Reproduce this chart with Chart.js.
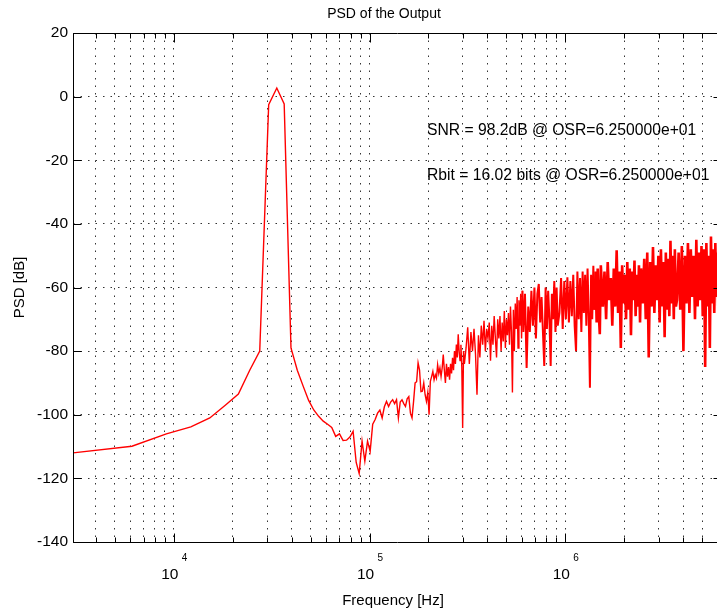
<!DOCTYPE html>
<html>
<head>
<meta charset="utf-8">
<script src="https://cdn.jsdelivr.net/npm/chart.js@4.4.1/dist/chart.umd.min.js"></script>
<style>
  html, body { margin: 0; padding: 0; background: #fff; overflow: hidden; }
  #wrap { width: 717px; height: 613px; overflow: hidden; }
</style>
</head>
<body>
<div id="wrap"><canvas id="psdChart" width="722" height="613"></canvas></div>
<script>
// FFT bin spacing (fs = 12.5 MHz, N = 4096), bins
const binHz = 12.5e6 / 4096
const bins = [
    1,2,3,4,5,6,7,8,9,10, 11,12,13,14,15,16,17,18,19,20,
    21,22,23,24,25,26,27,28,29,30, 31,32,33,34,35,36,37,38,39,40,
    41,42,43,44,45,46,47,48,49,50, 51,52,53,54,55,56,57,58,59,60,
    61,62,63,64,65,66,67,68,69,70, 71,72,73,74,75,76,77,78,79,80,
    81,82,83,84,85,86,87,88,89,90, 91,92,93,94,95,96,97,98,99,100,
    102,104,106,108,110,112,114,116,118,120,122,124,126,128,130,132,134,136,138,140,
    142,144,146,148,150,152,154,156,158,160,162,164,166,168,170,172,174,176,178,180,
    182,184,186,188,190,192,194,196,198,200,
    204,208,212,216,220,224,228,232,236,240,244,248,252,256,260,264,268,272,276,280,
    284,288,292,296,300,
    306,312,318,324,330,336,342,348,354,360,366,372,378,384,390,396,402,408,414,420,
    426,432,438,444,450,456,462,468,474,480,486,492,498,
    510,520,530,540,550,560,570,580,590,600,610,620,630,640,650,660,670,680,690,700,
    710,720,730,740,750,760,770,780,790,800,
    815,830,845,860,875,890,905,920,935,950,965,980,995,1010,1025,1040,1055,1070,1085,1100,
    1115,1130,1145,1160,1175,1190,1205,
    1220,1244,1268,1292,1316,1340,1364,1388,1412,1436,1460,1484,1508,1532,1556,1580,1604,1628,1652,1676,
    1700,1724,1748,1772,1796,1820,1844,1868,1892,1916,1940,1964,1988,2012,2036,2048
]
const psdDb = [
    -112,-109.9,-106,-103.8,-101,-97,-93.5,-86,-80,-2.5,
    2.7,-2.3,-79,-86,-91,-95.5,-98.5,-100.5,-102,-103,
    -104,-106.8,-106,-108.1,-108,-107,-105.2,-115,-118.5,-108.3,
    -114.6,-108.3,-111.5,-103,-101.5,-99.5,-98.5,-101,-97.5,-95.8,
    -97.4,-96,-95.3,-96.5,-95.3,-101,-96,-95.3,-96.5,-97.4,
    -95,-94.3,-99.5,-101,-95.8,-90,-89.6,-83.7,-86,-92.7,
    -92.6,-90,-93.7,-95.8,-93,-100,-89.5,-88,-86.4,-89,
    -87.4,-88.5,-84.3,-87,-85.3,-88,-85.3,-81.1,-86,-90,
    -84,-88,-85,-89,-84,-87,-82.1,-86,-80,-84,
    -77.9,-82,-74.7,-80,-83,-78,-85,-104.2,-80,-84,
    // bins 102..200
    -79,-72.5,-84,-74,-80,-73,-81,-93.7,-75,-82,
    -72,-78,-70.5,-80,-73,-76,-71,-83,-72,-78,
    -69,-76,-82,-70,-76,-69,-80,-71,-77,-67.4,
    -79,-70,-75,-68,-78,-66,-74,-93,-67,-80,
    -65,-73,-63,-79,-64,-72,-62,-76,-61,-74,
    // bins 204..300
    -62,-85.3,-66,-74,-61,-72,-60,-76,-62,-58.9,
    -71,-63,-74,-84.7,-60,-73,-61,-70,-84.7,-62,
    -70,-58,-74,-60,-72,
    // bins 306..498
    -68,-57,-73,-58,-70,-56.8,-71,-58,-69,-56,
    -72,-80,-55,-70,-57,-74,-55,-68,-56,-72,
    -54,-69,-91.5,-56,-70,-53.2,-67,-55,-71,-54,
    -68,-74.7,-53,
    // bins 510..800
    -66,-55,-70,-52,-64,-57,-72,-54,-66,-48.3,
    -68,-55,-79,-53,-65,-56,-70,-52,-67,-54,
    -75,-55,-64,-51.5,-69,-56,-66,-53,-71,-54,
    // bins 815..1205
    -65,-51,-70,-49,-82,-52,-66,-47.3,-68,-53,
    -64,-50,-71,-48,-66,-52,-75.6,-49,-67,-51,
    -69,-45.3,-65,-50,-70,-48,-66,
    // bins 1220..2048
    -64,-49,-67,-47,-80,-50,-65,-46,-68,-48,
    -63,-50,-70,-45,-66,-49,-64,-47,-69,-48,
    -85,-46,-66,-50,-79,-44,-65,-48,-68,-46,
    -63,-49,-70,-45,-67,-48
]
if (bins.length !== psdDb.length) throw new Error('length mismatch ' + bins.length + ' vs ' + psdDb.length)

const xDecades = [1e3, 1e4, 1e5, 1e6]
const xLabelExps = [4, 5, 6]
const yTicks = [20, 0, -20, -40, -60, -80, -100, -120, -140]
const snrText = 'SNR = 98.2dB @ OSR=6.250000e+01'
const rbitText = 'Rbit = 16.02 bits @ OSR=6.250000e+01'

const xMin = bins[0] * binHz
const xMax = bins[bins.length - 1] * binHz
const FONT = '"Liberation Sans", Arial, Helvetica, sans-serif'

// matlab style box, inward ticks, 10^n labels and texts
const matlabFrame = {
    id: 'matlabFrame',
    afterDraw(chart) {
        const {ctx, chartArea: a, scales: {x, y}} = chart
        const L = Math.round(a.left) + 0.5, R = Math.round(a.right) + 0.5
        const T = Math.round(a.top) + 0.5, B = Math.round(a.bottom) + 0.5
        ctx.save()
        ctx.strokeStyle = '#000'
        ctx.lineWidth = 1
        ctx.setLineDash([])
        ctx.beginPath()
        ctx.moveTo(L, B); ctx.lineTo(L, T); ctx.lineTo(R, T); ctx.lineTo(R, B); ctx.closePath()
        x.ticks.forEach(t => {
            const px = Math.round(x.getPixelForValue(t.value)) + 0.5
            const major = Math.abs(Math.log10(t.value) - Math.round(Math.log10(t.value))) < 1e-9
            const len = major ? 9 : 5
            ctx.moveTo(px, B); ctx.lineTo(px, B - len)
            ctx.moveTo(px, T); ctx.lineTo(px, T + len)
        })
        yTicks.forEach(v => {
            const py = Math.round(y.getPixelForValue(v)) + 0.5
            ctx.moveTo(L, py); ctx.lineTo(L + 8, py)
            ctx.moveTo(R, py); ctx.lineTo(R - 8, py)
        })
        ctx.stroke()

        ctx.fillStyle = '#000'
        ctx.textBaseline = 'middle'
        xLabelExps.forEach(e => {
            const px = x.getPixelForValue(Math.pow(10, e))
            ctx.font = '15.5px ' + FONT
            ctx.textAlign = 'center'
            ctx.fillText('10', px - 4, 575)
            ctx.font = '10px ' + FONT
            ctx.textAlign = 'left'
            ctx.fillText(String(e), px + 8, 558)
        })
        ctx.font = '14px ' + FONT
        ctx.textAlign = 'center'
        ctx.fillText('PSD of the Output', 384, 14)
        ctx.font = '15px ' + FONT
        ctx.fillText('Frequency [Hz]', 393, 601)
        ctx.font = '15.7px ' + FONT
        ctx.textAlign = 'left'
        ctx.fillText(snrText, 427, 131)
        ctx.fillText(rbitText, 427, 176)
        ctx.restore()
    }
}

const data = {
    datasets: [{
        label: 'PSD',
        data: bins.map((b, i) => ({x: b * binHz, y: psdDb[i]})),
        borderColor: '#ff0000',
        borderWidth: 1.4,
        segment: {
            // the bins crowd together at high frequency and merge into a band
            borderWidth: ctx => ctx.p0.parsed.x > 1.4e6 ? 2.6 : (ctx.p0.parsed.x > 6e5 ? 2 : 1.4)
        },
        pointRadius: 0,
        tension: 0,
        fill: false
    }]
}

const config = {
    type: 'line',
    data: data,
    options: {
        responsive: false,
        animation: false,
        layout: { padding: { top: 33, right: 1, bottom: 0, left: 0 } },
        plugins: {
            legend: { display: false },
            tooltip: { enabled: false },
            title: { display: false }
        },
        scales: {
            x: {
                type: 'logarithmic',
                min: xMin,
                max: xMax,
                afterBuildTicks: (scale) => {
                    const t = []
                    xDecades.forEach(d => {
                        for (let m = 1; m <= 9; m++) {
                            const v = d * m
                            if (v > xMin && v < xMax) t.push({value: v})
                        }
                    })
                    scale.ticks = t
                },
                afterFit: (scale) => { scale.height = 71 },
                ticks: { display: false },
                grid: { color: '#333', lineWidth: 1, drawTicks: false, borderDash: [1.5, 6] },
                border: { display: false, dash: [1.5, 6] }
            },
            y: {
                min: -140,
                max: 20,
                afterBuildTicks: (scale) => { scale.ticks = yTicks.map(v => ({value: v})) },
                afterFit: (scale) => { scale.width = 73 },
                ticks: {
                    color: '#000',
                    padding: 5,
                    font: { family: FONT, size: 15.5 }
                },
                title: {
                    display: true,
                    text: 'PSD [dB]',
                    color: '#000',
                    font: { family: FONT, size: 15 },
                    padding: { top: 11, bottom: 0 }
                },
                grid: { color: '#333', lineWidth: 1, drawTicks: false, borderDash: [1.5, 6] },
                border: { display: false, dash: [1.5, 6] }
            }
        }
    },
    plugins: [matlabFrame]
}

var psdChart = new Chart(document.getElementById('psdChart'), config)
</script>
</body>
</html>
